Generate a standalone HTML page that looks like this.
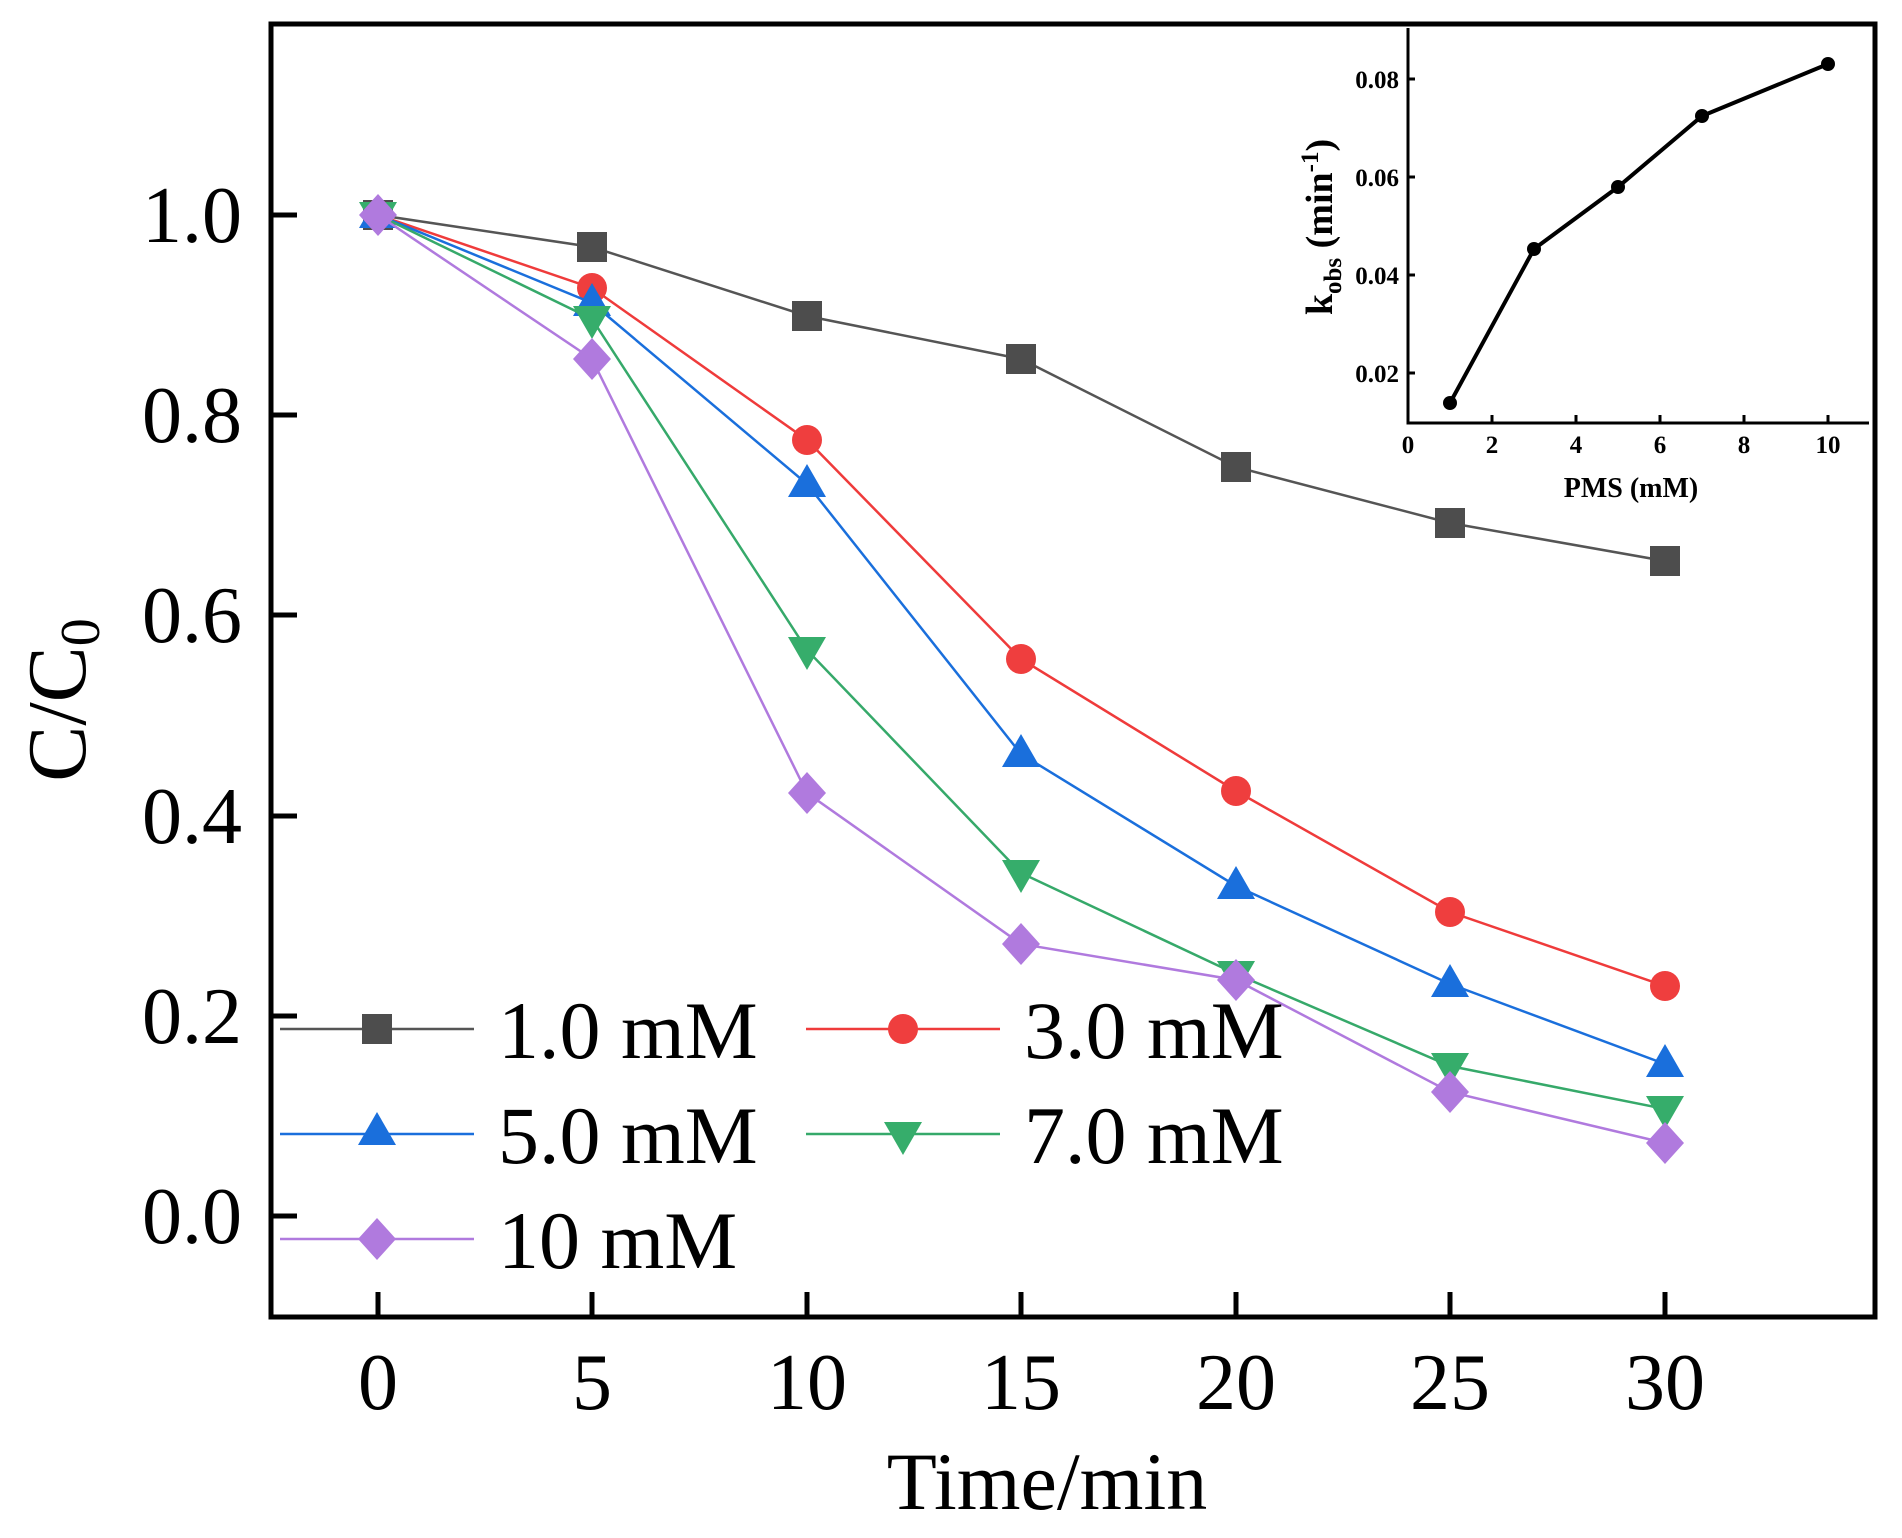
<!DOCTYPE html>
<html><head><meta charset="utf-8"><style>
html,body{margin:0;padding:0;background:#fff;}
svg{display:block;}
text{font-family:"Liberation Serif","Times New Roman",serif;fill:#000;}
</style></head><body>
<svg width="1902" height="1538" viewBox="0 0 1902 1538" xmlns="http://www.w3.org/2000/svg">
<rect width="1902" height="1538" fill="#fff"/>
<rect x="271" y="24" width="1604" height="1293" fill="none" stroke="#000" stroke-width="5"/>
<g stroke="#000" stroke-width="5">
<line x1="271" y1="215" x2="297" y2="215"/>
<line x1="271" y1="415" x2="297" y2="415"/>
<line x1="271" y1="615" x2="297" y2="615"/>
<line x1="271" y1="816" x2="297" y2="816"/>
<line x1="271" y1="1016" x2="297" y2="1016"/>
<line x1="271" y1="1216" x2="297" y2="1216"/>
<line x1="378" y1="1317" x2="378" y2="1292"/>
<line x1="592" y1="1317" x2="592" y2="1292"/>
<line x1="807" y1="1317" x2="807" y2="1292"/>
<line x1="1021" y1="1317" x2="1021" y2="1292"/>
<line x1="1236" y1="1317" x2="1236" y2="1292"/>
<line x1="1450" y1="1317" x2="1450" y2="1292"/>
<line x1="1665" y1="1317" x2="1665" y2="1292"/>
</g>
<g font-size="80" text-anchor="end">
<text x="242" y="242">1.0</text>
<text x="242" y="442">0.8</text>
<text x="242" y="642">0.6</text>
<text x="242" y="843">0.4</text>
<text x="242" y="1043">0.2</text>
<text x="242" y="1243">0.0</text>
</g>
<g font-size="80" text-anchor="middle">
<text x="378" y="1409">0</text>
<text x="592" y="1409">5</text>
<text x="807" y="1409">10</text>
<text x="1021" y="1409">15</text>
<text x="1236" y="1409">20</text>
<text x="1450" y="1409">25</text>
<text x="1665" y="1409">30</text>
<text x="1047" y="1509" font-size="82">Time/min</text>
</g>
<text transform="translate(85,700) rotate(-90)" font-size="84" text-anchor="middle">C/C<tspan font-size="56" dy="14">0</tspan></text>

<polyline fill="none" stroke="#555" stroke-width="2.5" points="378,215 592,247 807,316 1021,359 1236,467 1450,523 1665,561"/>
<g fill="#4d4d4d">
<rect x="363" y="200" width="30" height="30"/><rect x="577" y="232" width="30" height="30"/><rect x="792" y="301" width="30" height="30"/><rect x="1006" y="344" width="30" height="30"/><rect x="1221" y="452" width="30" height="30"/><rect x="1435" y="508" width="30" height="30"/><rect x="1650" y="546" width="30" height="30"/>
</g>
<polyline fill="none" stroke="#ef3b3b" stroke-width="2.5" points="378,215 592,288 807,440 1021,659 1236,791 1450,912 1665,986"/>
<g fill="#ef3e3e">
<circle cx="378" cy="215" r="15"/><circle cx="592" cy="288" r="15"/><circle cx="807" cy="440" r="15"/><circle cx="1021" cy="659" r="15"/><circle cx="1236" cy="791" r="15"/><circle cx="1450" cy="912" r="15"/><circle cx="1665" cy="986" r="15"/>
</g>
<polyline fill="none" stroke="#1a6fdc" stroke-width="2.5" points="378,215 592,303 807,484 1021,754 1236,886 1450,984 1665,1064"/>
<g fill="#1a6fdc">
<polygon points="378,195 397,228 359,228"/><polygon points="592,283 611,316 573,316"/><polygon points="807,464 826,497 788,497"/><polygon points="1021,734 1040,767 1002,767"/><polygon points="1236,866 1255,899 1217,899"/><polygon points="1450,964 1469,997 1431,997"/><polygon points="1665,1044 1684,1077 1646,1077"/>
</g>
<polyline fill="none" stroke="#36a96a" stroke-width="2.5" points="378,215 592,319 807,650 1021,873 1236,974 1450,1066 1665,1109"/>
<g fill="#36ad6b">
<polygon points="359,202 397,202 378,235"/><polygon points="573,306 611,306 592,339"/><polygon points="788,637 826,637 807,670"/><polygon points="1002,860 1040,860 1021,893"/><polygon points="1217,961 1255,961 1236,994"/><polygon points="1431,1053 1469,1053 1450,1086"/><polygon points="1646,1096 1684,1096 1665,1129"/>
</g>
<polyline fill="none" stroke="#b07ade" stroke-width="2.5" points="378,215 592,359 807,793 1021,944 1236,980 1450,1092 1665,1143"/>
<g fill="#b07ade">
<polygon points="378,194 397,215 378,236 359,215"/><polygon points="592,338 611,359 592,380 573,359"/><polygon points="807,772 826,793 807,814 788,793"/><polygon points="1021,923 1040,944 1021,965 1002,944"/><polygon points="1236,959 1255,980 1236,1001 1217,980"/><polygon points="1450,1071 1469,1092 1450,1113 1431,1092"/><polygon points="1665,1122 1684,1143 1665,1164 1646,1143"/>
</g>

<line x1="280" y1="1029" x2="474" y2="1029" stroke="#555" stroke-width="2.5"/>
<rect x="362" y="1014" width="30" height="30" fill="#4d4d4d"/>
<text x="498" y="1058" font-size="82">1.0 mM</text>
<line x1="806" y1="1029" x2="1000" y2="1029" stroke="#ef3b3b" stroke-width="2.5"/>
<circle cx="903" cy="1029" r="15" fill="#ef3e3e"/>
<text x="1024" y="1058" font-size="82">3.0 mM</text>
<line x1="280" y1="1134" x2="474" y2="1134" stroke="#1a6fdc" stroke-width="2.5"/>
<polygon points="377,1112 396,1145 358,1145" fill="#1a6fdc"/>
<text x="498" y="1163" font-size="82">5.0 mM</text>
<line x1="806" y1="1134" x2="1000" y2="1134" stroke="#36a96a" stroke-width="2.5"/>
<polygon points="884,1122 922,1122 903,1155" fill="#36ad6b"/>
<text x="1024" y="1163" font-size="82">7.0 mM</text>
<line x1="280" y1="1239" x2="474" y2="1239" stroke="#b07ade" stroke-width="2.5"/>
<polygon points="377,1218 396,1239 377,1260 358,1239" fill="#b07ade"/>
<text x="498" y="1268" font-size="82">10 mM</text>

<g stroke="#000" stroke-width="3" fill="none">
<polyline points="1408,28 1408,423 1869,423"/>
<line x1="1408" y1="79" x2="1415" y2="79"/>
<line x1="1408" y1="177" x2="1415" y2="177"/>
<line x1="1408" y1="275" x2="1415" y2="275"/>
<line x1="1408" y1="373" x2="1415" y2="373"/>
<line x1="1492" y1="423" x2="1492" y2="415"/>
<line x1="1576" y1="423" x2="1576" y2="415"/>
<line x1="1660" y1="423" x2="1660" y2="415"/>
<line x1="1744" y1="423" x2="1744" y2="415"/>
<line x1="1828" y1="423" x2="1828" y2="415"/>
</g>
<polyline fill="none" stroke="#000" stroke-width="4" points="1450,403 1534,249 1618,187 1702,116 1828,64"/>
<g fill="#000">
<circle cx="1450" cy="403" r="7"/><circle cx="1534" cy="249" r="7"/><circle cx="1618" cy="187" r="7"/><circle cx="1702" cy="116" r="7"/><circle cx="1828" cy="64" r="7"/>
</g>
<g font-size="25" font-weight="bold" text-anchor="end">
<text x="1399" y="88">0.08</text>
<text x="1399" y="186">0.06</text>
<text x="1399" y="284">0.04</text>
<text x="1399" y="382">0.02</text>
</g>
<g font-size="25" font-weight="bold" text-anchor="middle">
<text x="1408" y="453">0</text>
<text x="1492" y="453">2</text>
<text x="1576" y="453">4</text>
<text x="1660" y="453">6</text>
<text x="1744" y="453">8</text>
<text x="1828" y="453">10</text>
<text x="1631" y="497" font-size="28">PMS (mM)</text>
</g>
<text transform="translate(1332,227) rotate(-90)" font-size="38" font-weight="bold" text-anchor="middle">k<tspan font-size="25" dy="9">obs</tspan><tspan dy="-9"> (min</tspan><tspan font-size="25" dy="-14">-1</tspan><tspan dy="14">)</tspan></text>
</svg>
</body></html>
